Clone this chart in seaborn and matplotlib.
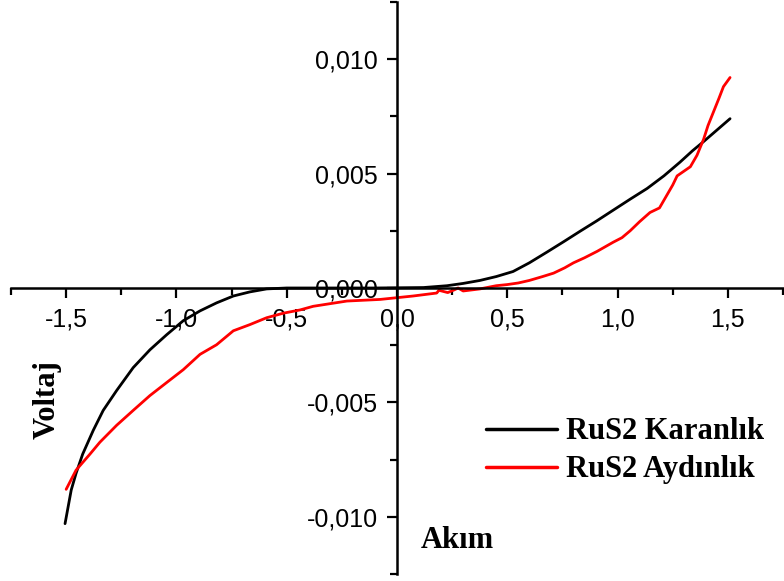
import numpy as np
import pandas as pd
import seaborn as sns
import matplotlib.pyplot as plt
from matplotlib.ticker import MultipleLocator, FuncFormatter

# dark curve (Karanlık)
dark_x = [-1.505, -1.477, -1.455, -1.425, -1.377, -1.332, -1.271, -1.196, -1.12, -1.044,
          -0.969, -0.893, -0.818, -0.742, -0.667, -0.591, -0.50, -0.30, -0.10, 0.12,
          0.227, 0.30, 0.376, 0.45, 0.526, 0.60, 0.68, 0.755, 0.83, 0.905, 0.98, 1.06,
          1.134, 1.21, 1.283, 1.34, 1.39, 1.45, 1.51]
dark_y = [-0.0103, -0.00883, -0.0081, -0.00726, -0.00622, -0.00535, -0.00448, -0.00348,
          -0.0027, -0.00204, -0.00143, -0.001, -0.00065, -0.00035, -0.00017, -0.00004,
          0.0, 0.0, 0.0, 0.00002, 0.0001, 0.0002, 0.00033, 0.0005, 0.00072, 0.0011,
          0.00157, 0.00202, 0.00248, 0.00293, 0.0034, 0.0039, 0.00435, 0.0049, 0.0055,
          0.0060, 0.0064, 0.0069, 0.0074]

# light curve (Aydınlık)
light_x = [-1.50, -1.455, -1.392, -1.347, -1.271, -1.196, -1.12, -1.044, -0.969, -0.893,
           -0.818, -0.742, -0.667, -0.591, -0.515, -0.44, -0.38, -0.227, -0.077, 0.073,
           0.18, 0.19, 0.21, 0.23, 0.26, 0.277, 0.30, 0.376, 0.45, 0.50, 0.55, 0.60,
           0.66, 0.71, 0.76, 0.80, 0.85, 0.907, 0.98, 1.02, 1.057, 1.10, 1.147, 1.19,
           1.22, 1.25, 1.27, 1.30, 1.33, 1.36, 1.39, 1.41, 1.435, 1.46, 1.48, 1.51]
light_y = [-0.0088, -0.00796, -0.00726, -0.00674, -0.006, -0.00535, -0.0047, -0.00413,
           -0.00357, -0.0029, -0.00248, -0.00187, -0.0016, -0.0013, -0.0011, -0.00096,
           -0.0008, -0.00057, -0.0005, -0.00035, -0.00022, -0.0001, -0.00015, -0.0002,
           -0.00008, 0.0, -0.00013, -0.00004, 0.0001, 0.00015, 0.00022, 0.00033, 0.0005,
           0.00065, 0.00088, 0.0011, 0.00132, 0.0016, 0.002, 0.0022, 0.0025, 0.0029,
           0.0033, 0.0035, 0.004, 0.0045, 0.0049, 0.0051, 0.0053, 0.0058, 0.0065, 0.0071,
           0.0077, 0.0083, 0.0088, 0.0092]

dark_label = "RuS2 Karanlık"
light_label = "RuS2 Aydınlık"
x_ticks = [-1.5, -1.0, -0.5, 0.0, 0.5, 1.0, 1.5]
y_ticks = [-0.010, -0.005, 0.0, 0.005, 0.010]

sns.set_style("white")
plt.rcParams['font.family'] = ['Liberation Sans', 'DejaVu Sans']
plt.rcParams['text.color'] = 'black'

fig = plt.figure(figsize=(7.84, 5.81), dpi=100)
ax = fig.add_axes([11 / 784, 7 / 581, 772 / 784, 572 / 581])

df = pd.concat([
    pd.DataFrame({"x": dark_x, "y": dark_y, "s": dark_label}),
    pd.DataFrame({"x": light_x, "y": light_y, "s": light_label}),
])
sns.lineplot(data=df, x="x", y="y", hue="s", palette=["black", "#ff0000"],
             linewidth=2.0, ax=ax, sort=False, estimator=None)

ax.set_xlim(-1.75, 1.75)
ax.set_ylim(-0.0125, 0.0125)

for side in ["top", "right"]:
    ax.spines[side].set_visible(False)
ax.spines["left"].set_position(("data", 0))
ax.spines["bottom"].set_position(("data", 0))
for side in ["left", "bottom"]:
    ax.spines[side].set_linewidth(1.8)
    ax.spines[side].set_color("black")

ax.set_xticks(x_ticks)
ax.set_yticks(y_ticks)
ax.xaxis.set_minor_locator(MultipleLocator(0.25))
ax.yaxis.set_minor_locator(MultipleLocator(0.0025))
ax.xaxis.set_major_formatter(FuncFormatter(lambda v, p: f"{v:.1f}".replace(".", ",")))
ax.yaxis.set_major_formatter(FuncFormatter(lambda v, p: f"{v:.3f}".replace(".", ",")))
ax.tick_params(which="both", bottom=True, left=True, top=False, right=False)
ax.tick_params(which="major", direction="out", length=7, width=1.6, labelsize=18,
               colors="black", labelcolor="black")
ax.tick_params(axis="x", which="major", pad=7)
ax.tick_params(axis="y", which="major", pad=7)
ax.tick_params(which="minor", direction="out", length=5, width=1.6, colors="black")
ax.set_xlabel("")
ax.set_ylabel("")

leg = ax.legend(loc="upper left", bbox_to_anchor=(471 / 784, 1 - 402 / 581),
                bbox_transform=fig.transFigure, frameon=False, borderpad=0,
                handlelength=2.3, handletextpad=0.3, labelspacing=0.3,
                labelcolor="black",
                prop={"family": "Liberation Serif", "weight": "bold", "size": 22})
for line in leg.get_lines():
    line.set_linewidth(2.5)

fig.text(47 / 784, 1 - 400 / 581, "Voltaj", rotation=90, ha="center", va="center",
         family="Liberation Serif", weight="bold", size=22, color="black")
fig.text(457 / 784, 1 - 540 / 581, "Akım", ha="center", va="center",
         family="Liberation Serif", weight="bold", size=22, color="black")

fig.savefig("out.png", dpi=100)
